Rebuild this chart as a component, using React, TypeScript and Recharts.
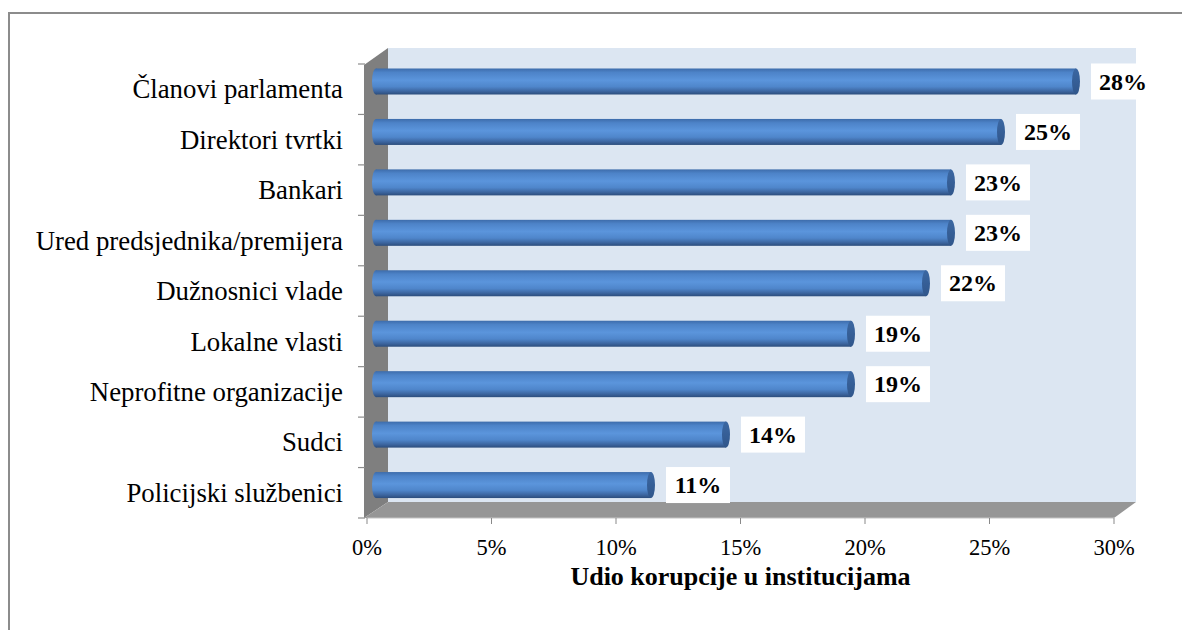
import React from 'react';
import { BarChart, Bar, XAxis, YAxis, ReferenceArea, LabelList } from 'recharts';

const categories = [
  'Članovi parlamenta',
  'Direktori tvrtki',
  'Bankari',
  'Ured predsjednika/premijera',
  'Dužnosnici vlade',
  'Lokalne vlasti',
  'Neprofitne organizacije',
  'Sudci',
  'Policijski službenici',
];
const shares = [28, 25, 23, 23, 22, 19, 19, 14, 11];
const xTicks = [0, 5, 10, 15, 20, 25, 30];
const axisTitle = 'Udio korupcije u institucijama';

const data = categories.map((name, i) => ({ name, value: shares[i] }));

// layout (svg coords, page minus the 8px body margin)
const W = 1182;
const H = 622;
const PLOT_LEFT = 359;
const PLOT_RIGHT = 1106;
const PLOT_TOP = 56;
const PLOT_BOTTOM = 510;
const XAXIS_H = 80;

// 3d look
const WALL_DX = 21;
const WALL_DY = 16;
const BAR_DX = 9;
const BAR_DY = 7.5;
const FONT = "'Liberation Serif', 'Times New Roman', serif";

function Walls(props: any) {
  const { x, y, width, height } = props;
  const right = x + width;
  const bottom = y + height;
  const band = height / categories.length;
  return (
    <g>
      <rect x={x + WALL_DX} y={y - WALL_DY} width={width + 1} height={height} fill="#dce6f2" />
      <polygon
        points={`${x - 3},${y + 1} ${x + WALL_DX},${y - WALL_DY} ${x + WALL_DX},${bottom - WALL_DY} ${x - 3},${bottom}`}
        fill="#7f7f7f"
      />
      <polygon
        points={`${x - 3},${bottom} ${x + WALL_DX},${bottom - WALL_DY} ${right + WALL_DX + 1},${bottom - WALL_DY} ${right},${bottom}`}
        fill="#969696"
      />
      {Array.from({ length: categories.length + 1 }, (_, i) => (
        <line
          key={i}
          x1={x - 9}
          x2={x - 2}
          y1={y + i * band}
          y2={y + i * band}
          stroke="#8c8c8c"
          strokeWidth={1.2}
        />
      ))}
    </g>
  );
}

function Cylinder(props: any) {
  const { x, y, width, height } = props;
  const r = 4;
  const x0 = x + BAR_DX;
  const x1 = x0 + width * 1.004;
  const cy = y + height / 2 - BAR_DY;
  const top = cy - height / 2;
  return (
    <g>
      <ellipse cx={x0} cy={cy} rx={r} ry={height / 2} fill="url(#cylBody)" />
      <rect x={x0} y={top} width={Math.max(0, x1 - x0)} height={height} fill="url(#cylBody)" />
      <ellipse cx={x1} cy={cy} rx={r} ry={height / 2} fill="url(#cylCap)" />
    </g>
  );
}

function ValueBox(props: any) {
  const vb = props.viewBox || {};
  const x = props.x ?? vb.x;
  const y = props.y ?? vb.y;
  const width = props.width ?? vb.width;
  const height = props.height ?? vb.height;
  const end = x + BAR_DX + width * 1.004 + 4;
  const cy = y + height / 2 - BAR_DY;
  const bx = end + 11;
  return (
    <g>
      <rect x={bx} y={cy - 18} width={64} height={36} fill="#ffffff" />
      <text
        x={bx + 32}
        y={cy}
        dy="0.34em"
        textAnchor="middle"
        fontFamily={FONT}
        fontWeight="bold"
        fontSize={24}
        fill="#000"
      >
        {props.value}%
      </text>
    </g>
  );
}

function CategoryTick(props: any) {
  const { y, payload } = props;
  return (
    <text
      x={PLOT_LEFT - 24}
      y={y}
      dy="0.34em"
      textAnchor="end"
      fontFamily={FONT}
      fontSize={26.8}
      fill="#000"
    >
      {payload.value}
    </text>
  );
}

export default function App() {
  return (
    <div style={{ position: 'relative', width: W, height: H, overflow: 'hidden' }}>
      <div
        style={{
          position: 'absolute',
          left: 0,
          top: 4,
          width: W + 100,
          height: H + 100,
          borderTop: '2px solid #8c8c8c',
          borderLeft: '2px solid #8c8c8c',
        }}
      />
      <BarChart
        width={W}
        height={H}
        data={data}
        layout="vertical"
        margin={{ top: PLOT_TOP, right: W - PLOT_RIGHT, left: 0, bottom: H - PLOT_BOTTOM - XAXIS_H }}
        style={{ position: 'absolute', left: 0, top: 0 }}
      >
        <defs>
          <linearGradient id="cylBody" x1="0" y1="0" x2="0" y2="1">
            <stop offset="0%" stopColor="#3d6cab" />
            <stop offset="15%" stopColor="#4d83c8" />
            <stop offset="45%" stopColor="#5b95dc" />
            <stop offset="70%" stopColor="#4f86cb" />
            <stop offset="88%" stopColor="#3c659f" />
            <stop offset="100%" stopColor="#2c4d7c" />
          </linearGradient>
          <linearGradient id="cylCap" x1="0" y1="0" x2="0" y2="1">
            <stop offset="0%" stopColor="#3b67a2" />
            <stop offset="100%" stopColor="#30568b" />
          </linearGradient>
        </defs>
        <XAxis
          type="number"
          domain={[0, 30]}
          ticks={xTicks}
          tickFormatter={(v: number) => `${v}%`}
          height={XAXIS_H}
          tick={{ fill: '#000', fontSize: 22.5, fontFamily: FONT }}
          tickLine={{ stroke: '#898989' }}
          tickSize={6}
          tickMargin={15}
          axisLine={{ stroke: '#c4c4c4' }}
          label={{
            value: axisTitle,
            position: 'insideBottom',
            offset: 13,
            fill: '#000',
            fontSize: 26,
            fontWeight: 'bold',
            fontFamily: FONT,
          }}
        />
        <YAxis
          type="category"
          dataKey="name"
          width={PLOT_LEFT}
          axisLine={false}
          tickLine={false}
          tick={<CategoryTick />}
          interval={0}
        />
        <ReferenceArea x1={0} x2={30} shape={<Walls />} ifOverflow="visible" />
        <Bar dataKey="value" barSize={26} shape={<Cylinder />} isAnimationActive={false}>
          <LabelList dataKey="value" content={<ValueBox />} />
        </Bar>
      </BarChart>
    </div>
  );
}
